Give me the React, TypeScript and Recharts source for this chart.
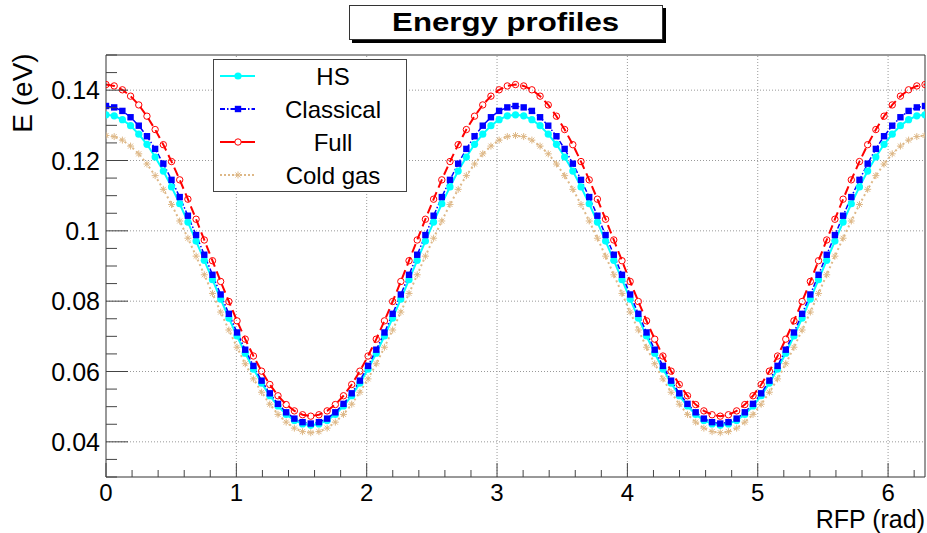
import React from 'react';
import { LineChart, Line, XAxis, YAxis, ReferenceLine, Legend, Label } from 'recharts';

// RFP angle (rad), one point every pi/50
const rfp = [
    0, 0.0628, 0.1257, 0.1885, 0.2513, 0.3142, 0.377, 0.4398, 0.5027, 0.5655,
    0.6283, 0.6912, 0.754, 0.8168, 0.8796, 0.9425, 1.0053, 1.0681, 1.131, 1.1938,
    1.2566, 1.3195, 1.3823, 1.4451, 1.508, 1.5708, 1.6336, 1.6965, 1.7593, 1.8221,
    1.885, 1.9478, 2.0106, 2.0735, 2.1363, 2.1991, 2.2619, 2.3248, 2.3876, 2.4504,
    2.5133, 2.5761, 2.6389, 2.7018, 2.7646, 2.8274, 2.8903, 2.9531, 3.0159, 3.0788,
    3.1416, 3.2044, 3.2673, 3.3301, 3.3929, 3.4558, 3.5186, 3.5814, 3.6442, 3.7071,
    3.7699, 3.8327, 3.8956, 3.9584, 4.0212, 4.0841, 4.1469, 4.2097, 4.2726, 4.3354,
    4.3982, 4.4611, 4.5239, 4.5867, 4.6496, 4.7124, 4.7752, 4.8381, 4.9009, 4.9637,
    5.0265, 5.0894, 5.1522, 5.215, 5.2779, 5.3407, 5.4035, 5.4664, 5.5292, 5.592,
    5.6549, 5.7177, 5.7805, 5.8434, 5.9062, 5.969, 6.0319, 6.0947, 6.1575, 6.2204,
    6.2832
];

const hs = [
    0.1330, 0.1327, 0.1316, 0.1299, 0.1275, 0.1246, 0.1210, 0.1170, 0.1125, 0.1077,
    0.1025, 0.0971, 0.0916, 0.0861, 0.0806, 0.0752, 0.0701, 0.0652, 0.0607, 0.0567,
    0.0531, 0.0502, 0.0478, 0.0461, 0.0451, 0.0447, 0.0451, 0.0461, 0.0478, 0.0502,
    0.0531, 0.0567, 0.0607, 0.0652, 0.0701, 0.0752, 0.0806, 0.0861, 0.0916, 0.0971,
    0.1025, 0.1077, 0.1125, 0.1170, 0.1210, 0.1246, 0.1275, 0.1299, 0.1316, 0.1327,
    0.1330, 0.1327, 0.1316, 0.1299, 0.1275, 0.1246, 0.1210, 0.1170, 0.1125, 0.1077,
    0.1025, 0.0971, 0.0916, 0.0861, 0.0806, 0.0752, 0.0701, 0.0652, 0.0607, 0.0567,
    0.0531, 0.0502, 0.0478, 0.0461, 0.0451, 0.0447, 0.0451, 0.0461, 0.0478, 0.0502,
    0.0531, 0.0567, 0.0607, 0.0652, 0.0701, 0.0752, 0.0806, 0.0861, 0.0916, 0.0971,
    0.1025, 0.1077, 0.1125, 0.1170, 0.1210, 0.1246, 0.1275, 0.1299, 0.1316, 0.1327,
    0.1330
];

const classical = [
    0.1355, 0.1351, 0.1341, 0.1323, 0.1299, 0.1269, 0.1233, 0.1191, 0.1145, 0.1096,
    0.1043, 0.0988, 0.0932, 0.0875, 0.0819, 0.0764, 0.0711, 0.0662, 0.0616, 0.0574,
    0.0538, 0.0508, 0.0484, 0.0466, 0.0456, 0.0452, 0.0456, 0.0466, 0.0484, 0.0508,
    0.0538, 0.0574, 0.0616, 0.0662, 0.0711, 0.0764, 0.0819, 0.0875, 0.0932, 0.0988,
    0.1043, 0.1096, 0.1145, 0.1191, 0.1233, 0.1269, 0.1299, 0.1323, 0.1341, 0.1351,
    0.1355, 0.1351, 0.1341, 0.1323, 0.1299, 0.1269, 0.1233, 0.1191, 0.1145, 0.1096,
    0.1043, 0.0988, 0.0932, 0.0875, 0.0819, 0.0764, 0.0711, 0.0662, 0.0616, 0.0574,
    0.0538, 0.0508, 0.0484, 0.0466, 0.0456, 0.0452, 0.0456, 0.0466, 0.0484, 0.0508,
    0.0538, 0.0574, 0.0616, 0.0662, 0.0711, 0.0764, 0.0819, 0.0875, 0.0932, 0.0988,
    0.1043, 0.1096, 0.1145, 0.1191, 0.1233, 0.1269, 0.1299, 0.1323, 0.1341, 0.1351,
    0.1355
];

const full = [
    0.1416, 0.1412, 0.1401, 0.1383, 0.1358, 0.1326, 0.1288, 0.1245, 0.1197, 0.1145,
    0.1090, 0.1033, 0.0974, 0.0915, 0.0856, 0.0799, 0.0744, 0.0692, 0.0644, 0.0601,
    0.0563, 0.0531, 0.0506, 0.0488, 0.0477, 0.0473, 0.0477, 0.0488, 0.0506, 0.0531,
    0.0563, 0.0601, 0.0644, 0.0692, 0.0744, 0.0799, 0.0856, 0.0915, 0.0974, 0.1033,
    0.1090, 0.1145, 0.1197, 0.1245, 0.1288, 0.1326, 0.1358, 0.1383, 0.1401, 0.1412,
    0.1416, 0.1412, 0.1401, 0.1383, 0.1358, 0.1326, 0.1288, 0.1245, 0.1197, 0.1145,
    0.1090, 0.1033, 0.0974, 0.0915, 0.0856, 0.0799, 0.0744, 0.0692, 0.0644, 0.0601,
    0.0563, 0.0531, 0.0506, 0.0488, 0.0477, 0.0473, 0.0477, 0.0488, 0.0506, 0.0531,
    0.0563, 0.0601, 0.0644, 0.0692, 0.0744, 0.0799, 0.0856, 0.0915, 0.0974, 0.1033,
    0.1090, 0.1145, 0.1197, 0.1245, 0.1288, 0.1326, 0.1358, 0.1383, 0.1401, 0.1412,
    0.1416
];

const coldGas = [
    0.1271, 0.1268, 0.1258, 0.1241, 0.1219, 0.1190, 0.1157, 0.1118, 0.1075, 0.1028,
    0.0979, 0.0928, 0.0875, 0.0822, 0.0769, 0.0718, 0.0669, 0.0622, 0.0579, 0.0541,
    0.0507, 0.0478, 0.0456, 0.0439, 0.0429, 0.0426, 0.0429, 0.0439, 0.0456, 0.0478,
    0.0507, 0.0541, 0.0579, 0.0622, 0.0669, 0.0718, 0.0769, 0.0822, 0.0875, 0.0928,
    0.0979, 0.1028, 0.1075, 0.1118, 0.1157, 0.1190, 0.1219, 0.1241, 0.1258, 0.1268,
    0.1271, 0.1268, 0.1258, 0.1241, 0.1219, 0.1190, 0.1157, 0.1118, 0.1075, 0.1028,
    0.0979, 0.0928, 0.0875, 0.0822, 0.0769, 0.0718, 0.0669, 0.0622, 0.0579, 0.0541,
    0.0507, 0.0478, 0.0456, 0.0439, 0.0429, 0.0426, 0.0429, 0.0439, 0.0456, 0.0478,
    0.0507, 0.0541, 0.0579, 0.0622, 0.0669, 0.0718, 0.0769, 0.0822, 0.0875, 0.0928,
    0.0979, 0.1028, 0.1075, 0.1118, 0.1157, 0.1190, 0.1219, 0.1241, 0.1258, 0.1268,
    0.1271
];

const xTicks = [
    0, 0.2, 0.4, 0.6, 0.8, 1, 1.2, 1.4, 1.6, 1.8, 2, 2.2, 2.4, 2.6, 2.8, 3,
    3.2, 3.4, 3.6, 3.8, 4, 4.2, 4.4, 4.6, 4.8, 5, 5.2, 5.4, 5.6, 5.8, 6, 6.2
];
const xLabels = [0, 1, 2, 3, 4, 5, 6];
const yTicks = [
    0.03, 0.035, 0.04, 0.045, 0.05, 0.055, 0.06, 0.065, 0.07, 0.075, 0.08, 0.085,
    0.09, 0.095, 0.1, 0.105, 0.11, 0.115, 0.12, 0.125, 0.13, 0.135, 0.14, 0.145, 0.15
];
const yLabels = [0.04, 0.06, 0.08, 0.1, 0.12, 0.14];

const data = rfp.map((x, i) => ({
    x,
    hs: hs[i],
    classical: classical[i],
    full: full[i],
    cold: coldGas[i]
}));

const FONT = '"Liberation Sans", Arial, Helvetica, sans-serif';
const TAN = '#deb887';

const isLabel = (list: number[], v: number) => list.some((l) => Math.abs(l - v) < 1e-6);

// ROOT style ticks: drawn inward from the axis
const XTick = (props: any) => {
    const { x, y, payload } = props;
    const major = isLabel(xLabels, payload.value);
    return (
        <g>
            <line x1={x} y1={y} x2={x} y2={y - (major ? 14 : 7)} stroke="#444" />
            {major && (
                <text x={x} y={y + 24} textAnchor="middle" fontSize={24} fill="#000">
                    {Math.round(payload.value)}
                </text>
            )}
        </g>
    );
};

const YTick = (props: any) => {
    const { x, y, payload } = props;
    const major = isLabel(yLabels, payload.value);
    return (
        <g>
            <line x1={x} y1={y} x2={x + (major ? 22 : 11)} y2={y} stroke="#444" />
            {major && (
                <text x={x - 6} y={y} dy="0.36em" textAnchor="end" fontSize={25} fill="#000">
                    {String(payload.value)}
                </text>
            )}
        </g>
    );
};

const hsDot = (p: any) => <circle key={`hs-${p.index}`} cx={p.cx} cy={p.cy} r={3.6} fill="#00ffff" />;
const classicalDot = (p: any) => (
    <rect key={`cl-${p.index}`} x={p.cx - 3.2} y={p.cy - 3.2} width={6.4} height={6.4} fill="#0000ff" />
);
const fullDot = (p: any) => (
    <circle key={`fu-${p.index}`} cx={p.cx} cy={p.cy} r={3.2} fill="none" stroke="#ff0000" strokeWidth={1} />
);
const Star = ({ cx, cy, color }: { cx: number; cy: number; color: string }) => (
    <g stroke={color} strokeWidth={1}>
        <line x1={cx - 3.5} y1={cy} x2={cx + 3.5} y2={cy} />
        <line x1={cx} y1={cy - 3.5} x2={cx} y2={cy + 3.5} />
        <line x1={cx - 2.5} y1={cy - 2.5} x2={cx + 2.5} y2={cy + 2.5} />
        <line x1={cx - 2.5} y1={cy + 2.5} x2={cx + 2.5} y2={cy - 2.5} />
    </g>
);
const coldDot = (p: any) => <Star key={`cg-${p.index}`} cx={p.cx} cy={p.cy} color={TAN} />;

const legendRows = [
    { name: 'HS', color: '#00ffff', dash: undefined, marker: 'circle' },
    { name: 'Classical', color: '#0000ff', dash: '5 2 1.5 2', marker: 'square' },
    { name: 'Full', color: '#ff0000', dash: undefined, marker: 'open' },
    { name: 'Cold gas', color: TAN, dash: '2 2', marker: 'star' }
];

const LegendBox = () => (
    <div
        style={{
            width: 194,
            height: 133,
            boxSizing: 'border-box',
            border: '1px solid #444',
            background: '#fff',
            fontFamily: FONT
        }}
    >
        {legendRows.map((r) => (
            <div key={r.name} style={{ display: 'flex', alignItems: 'center', height: 33 }}>
                <svg width={50} height={33} style={{ flex: 'none' }}>
                    <line x1={6} y1={16} x2={41} y2={16} stroke={r.color} strokeWidth={2} strokeDasharray={r.dash} />
                    {r.marker === 'circle' && <circle cx={24} cy={16} r={3.6} fill={r.color} />}
                    {r.marker === 'square' && <rect x={20.8} y={12.8} width={6.4} height={6.4} fill={r.color} />}
                    {r.marker === 'open' && <circle cx={24} cy={16} r={3.2} fill="#fff" stroke={r.color} />}
                    {r.marker === 'star' && <Star cx={24} cy={16} color={r.color} />}
                </svg>
                <div style={{ flex: 1, textAlign: 'center', fontSize: 24, color: '#000', paddingRight: 4 }}>{r.name}</div>
            </div>
        ))}
    </div>
);

const YTitle = () => (
    <text transform="translate(32,93) rotate(-90)" textAnchor="middle" fontSize={28} fill="#000">
        E (eV)
    </text>
);
const XTitle = () => (
    <text x={925} y={528} textAnchor="end" fontSize={25} fill="#000">
        RFP (rad)
    </text>
);

const App: React.FC = () => {
    return (
        <div
            style={{
                position: 'absolute',
                left: 0,
                top: 0,
                width: 927,
                height: 533,
                background: '#fff',
                fontFamily: FONT
            }}
        >
            <LineChart width={927} height={533} data={data} margin={{ top: 55, right: 2, bottom: 0, left: 0 }}>
                {xLabels.slice(1).map((v) => (
                    <ReferenceLine key={`gx-${v}`} x={v} stroke="#999" strokeDasharray="1 2" />
                ))}
                {yLabels.map((v) => (
                    <ReferenceLine key={`gy-${v}`} y={v} stroke="#999" strokeDasharray="1 2" />
                ))}
                <ReferenceLine y={0.15} stroke="#333" />
                <ReferenceLine x={6.2832} stroke="#333" />
                <XAxis
                    dataKey="x"
                    type="number"
                    domain={[0, 6.2832]}
                    ticks={xTicks}
                    interval={0}
                    height={56}
                    tickSize={0}
                    tickMargin={0}
                    tickLine={false}
                    axisLine={{ stroke: '#333' }}
                    tick={<XTick />}
                    allowDataOverflow
                >
                    <Label content={<XTitle />} />
                </XAxis>
                <YAxis
                    type="number"
                    domain={[0.03, 0.15]}
                    ticks={yTicks}
                    interval={0}
                    width={106}
                    tickSize={0}
                    tickMargin={0}
                    tickLine={false}
                    axisLine={{ stroke: '#333' }}
                    tick={<YTick />}
                    allowDataOverflow
                >
                    <Label content={<YTitle />} />
                </YAxis>
                <Line
                    type="linear"
                    dataKey="cold"
                    stroke={TAN}
                    strokeWidth={2}
                    strokeDasharray="2 3"
                    dot={coldDot}
                    activeDot={false}
                    isAnimationActive={false}
                />
                <Line
                    type="linear"
                    dataKey="hs"
                    stroke="#00ffff"
                    strokeWidth={2}
                    dot={hsDot}
                    activeDot={false}
                    isAnimationActive={false}
                />
                <Line
                    type="linear"
                    dataKey="classical"
                    stroke="#0000ff"
                    strokeWidth={1.5}
                    strokeDasharray="5 2 1.5 2"
                    dot={classicalDot}
                    activeDot={false}
                    isAnimationActive={false}
                />
                <Line
                    type="linear"
                    dataKey="full"
                    stroke="#ff0000"
                    strokeWidth={2}
                    strokeDasharray="9 5"
                    dot={fullDot}
                    activeDot={false}
                    isAnimationActive={false}
                />
                <Legend
                    layout="horizontal"
                    verticalAlign="middle"
                    content={<LegendBox />}
                    wrapperStyle={{ left: 213, top: 59, width: 194, height: 133 }}
                />
            </LineChart>
            <div
                style={{
                    position: 'absolute',
                    left: 349,
                    top: 5,
                    width: 314,
                    height: 35,
                    boxSizing: 'border-box',
                    border: '1px solid #333',
                    boxShadow: '3px 3px 0 #000',
                    background: '#fff',
                    display: 'flex',
                    alignItems: 'center',
                    justifyContent: 'center'
                }}
            >
                <span
                    style={{
                        display: 'inline-block',
                        fontSize: 26,
                        fontWeight: 'bold',
                        color: '#000',
                        transform: 'scaleX(1.2)'
                    }}
                >
                    Energy profiles
                </span>
            </div>
        </div>
    );
};

export default App;
